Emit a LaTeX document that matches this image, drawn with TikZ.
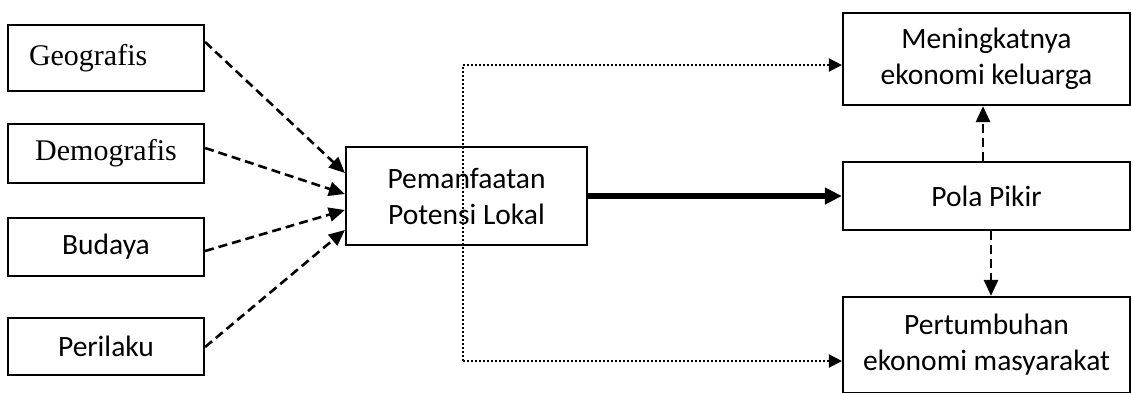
\documentclass[tikz,border=0pt]{standalone}
\usepackage{fontspec}
\setmainfont{Carlito}
\newfontfamily\serifface{Liberation Serif}
\usetikzlibrary{arrows.meta}
\begin{document}
\begin{tikzpicture}[x=1pt,y=-1pt,
  box/.style={draw,line width=2.2pt,minimum width=#1,inner sep=0pt,align=center,
    font=\fontsize{29.5}{36}\selectfont},
  box/.default=196pt,
  serifbox/.style={font=\serifface\fontsize{30}{36}\selectfont},
  srcline/.style={line width=2.6pt,dash pattern=on 9pt off 5pt,
    -{Triangle[length=16pt,width=14pt]}},
  dotline/.style={line width=2.2pt,dash pattern=on 2pt off 2pt},
  dottip/.style={-{Triangle[length=13pt,width=13pt]}},
  mainline/.style={line width=5.5pt,-{Triangle[length=17pt,width=16pt]}}]
\useasboundingbox (0,0) rectangle (1132,392);

% factor boxes on the left
\node[box,serifbox,minimum height=66pt,text width=154pt,inner xsep=21pt,align=left] (geo) at (106,58) {Geografis};
\node[box,serifbox,minimum height=59pt] (demo) at (106,153.5) {Demografis};
\node[box,minimum height=58pt] (bud) at (106,247) {Budaya};
\node[box,minimum height=57pt] (peri) at (106,346.5) {Perilaku};

% central box
\node[box=241pt,minimum height=98pt] (pem) at (466.5,196) {Pemanfaatan\\Potensi Lokal};

% outcome boxes on the right
\node[box=287pt,minimum height=92pt] (men) at (986.5,59) {Meningkatnya\\ekonomi keluarga};
\node[box=287pt,minimum height=68pt] (pola) at (986.5,196) {Pola Pikir};
\node[box=287pt,minimum height=96pt] (pert) at (986.5,345) {Pertumbuhan\\ekonomi masyarakat};

% factors into the central box
\draw[srcline] (geo.east |- 0,42) -- (pem.west |- 0,173);
\draw[srcline] (demo.east |- 0,148) -- (pem.west |- 0,194);
\draw[srcline] (bud.east |- 0,251) -- (pem.west |- 0,210);
\draw[srcline] (peri.east |- 0,347) -- (pem.west |- 0,230);

% main flow
\draw[mainline] (pem.east) -- (pola.west);

% dotted branch to both outcomes
\coordinate (dtop) at (463,65);
\coordinate (dbot) at (463,361);
\draw[dotline] (dbot) -- (dtop);
\draw[dotline,dottip] (dtop) -- (men.west |- dtop);
\draw[dotline,dottip] (dbot) -- (pert.west |- dbot);

% mindset effects
\draw[srcline] ([xshift=-3.5pt]pola.north) -- ([xshift=-3.5pt]men.south);
\draw[srcline] ([xshift=4.5pt]pola.south) -- ([xshift=4.5pt]pert.north);
\end{tikzpicture}
\end{document}
